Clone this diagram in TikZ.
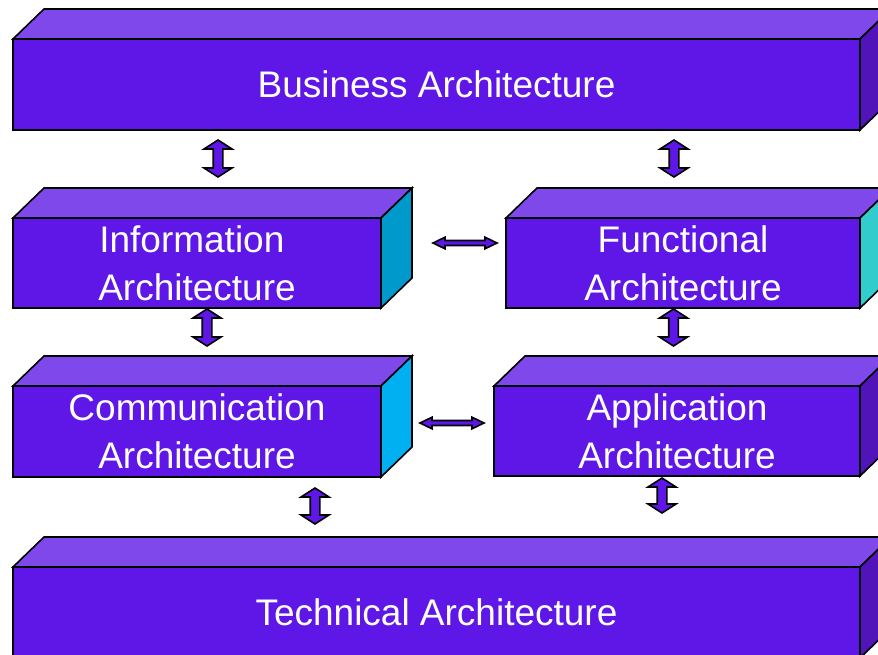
\documentclass[tikz,border=0pt]{standalone}
\usepackage{fontspec}
\setmainfont{Liberation Sans}
\definecolor{frontc}{RGB}{94,23,230}
\definecolor{topc}{RGB}{127,72,234}
\definecolor{darkside}{RGB}{80,20,184}
\definecolor{infoside}{HTML}{0099CC}
\definecolor{funcside}{HTML}{33CCCC}
\definecolor{commside}{HTML}{00B0F0}
\tikzset{
  front/.style={draw=black, line width=1.6pt, fill=frontc, inner sep=0pt, outer sep=0pt,
    text=white, align=center, font=\fontsize{37}{48}\selectfont},
  topface/.style={draw=black, line width=1.6pt, fill=topc},
  sideface/.style={draw=black, line width=1.6pt, fill=#1},
  blockarrow/.style={draw=black, line width=1.6pt, fill=frontc},
}
\newcommand\boxfaces[2]{%
  \draw[topface] (#1.north west) -- ++(31,-30) -- ([shift={(31,-30)}]#1.north east) -- (#1.north east) -- cycle;
  \draw[sideface=#2] (#1.north east) -- ++(31,-30) -- ([shift={(31,-30)}]#1.south east) -- (#1.south east) -- cycle;
}
% vertical double block arrow: x, ytop, ybottom
\newcommand\vdarrow[3]{%
  \draw[blockarrow] (#1,#2) -- (#1+14,#2+9) -- (#1+4.8,#2+9) -- (#1+4.8,#3-9) -- (#1+14,#3-9)
    -- (#1,#3) -- (#1-14,#3-9) -- (#1-4.8,#3-9) -- (#1-4.8,#2+9) -- (#1-14,#2+9) -- cycle;}
% horizontal double block arrow: xleft, xright, y
\newcommand\hdarrow[3]{%
  \draw[blockarrow] (#1,#3) -- (#1+12,#3-5.8) -- (#1+12,#3-2.5) -- (#2-12,#3-2.5) -- (#2-12,#3-5.8)
    -- (#2,#3) -- (#2-12,#3+5.8) -- (#2-12,#3+2.5) -- (#1+12,#3+2.5) -- (#1+12,#3+5.8) -- cycle;}
\begin{document}
\begin{tikzpicture}[x=1pt,y=-1pt]
\useasboundingbox (0,0) rectangle (878,655);
\clip (0,0) rectangle (878,655);

\node[front, minimum width=847, minimum height=91] (biz) at (436.5,84.5) {Business Architecture};
\boxfaces{biz}{darkside}

\node[front, minimum width=368, minimum height=90] (info) at (197,263) {Information\hphantom{\ }\\Architecture};
\boxfaces{info}{infoside}

\node[front, minimum width=354, minimum height=90] (func) at (683,263) {Functional\\Architecture};
\boxfaces{func}{funcside}

\node[front, minimum width=368, minimum height=91] (comm) at (197,431.5) {Communication\\Architecture};
\boxfaces{comm}{commside}

\node[front, minimum width=366, minimum height=90] (app) at (677,431) {Application\\Architecture};
\boxfaces{app}{darkside}

\node[front, minimum width=847, minimum height=91] (tech) at (436.5,612.5) {Technical Architecture};
\boxfaces{tech}{darkside}

\vdarrow{218}{140}{177}
\vdarrow{674}{140}{177}
\vdarrow{207}{309}{346}
\vdarrow{673.5}{309}{346}
\vdarrow{315}{488}{524}
\vdarrow{662}{478}{513}
\hdarrow{433}{497}{243}
\hdarrow{420}{484}{423}
\end{tikzpicture}
\end{document}
